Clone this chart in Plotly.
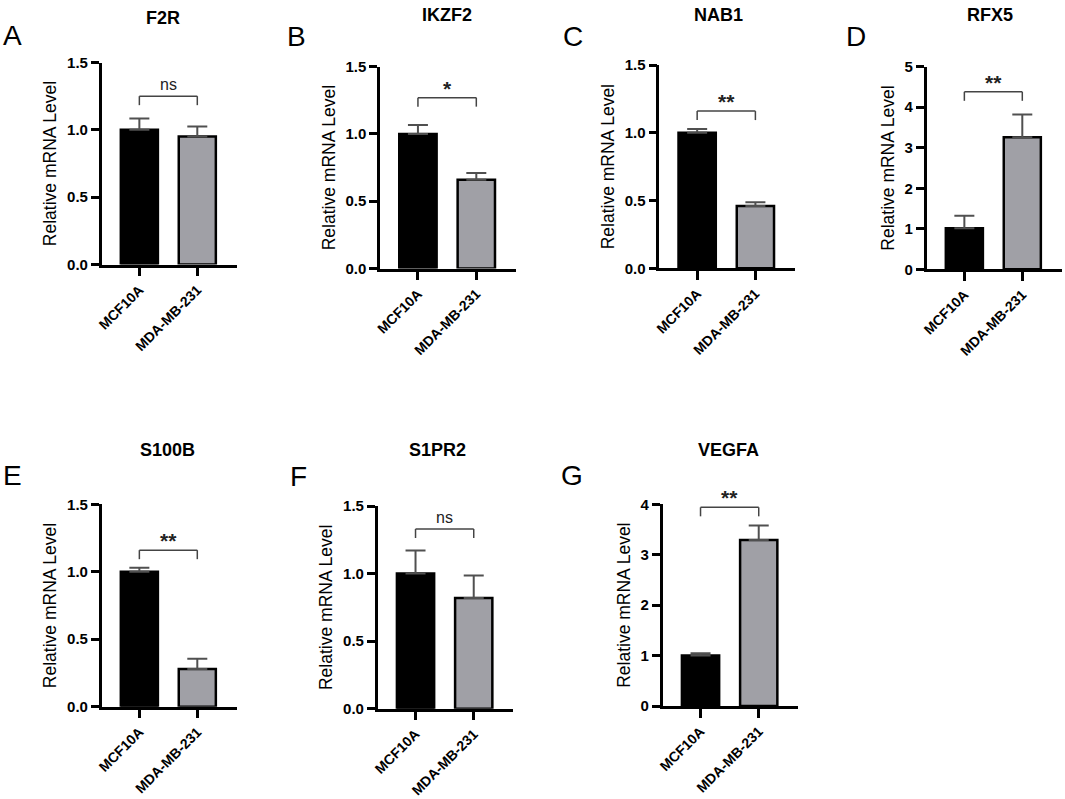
import plotly.graph_objects as go

# values
genes = ["F2R", "IKZF2", "NAB1", "RFX5", "S100B", "S1PR2", "VEGFA"]
letters = ["A", "B", "C", "D", "E", "F", "G"]
groups = ["MCF10A", "MDA-MB-231"]
mcf10a_mean = [1.00, 1.00, 1.00, 1.01, 1.00, 1.00, 1.00]
mcf10a_err = [0.085, 0.067, 0.028, 0.31, 0.03, 0.17, 0.045]
mda_mean = [0.95, 0.66, 0.46, 3.26, 0.28, 0.82, 3.29]
mda_err = [0.075, 0.05, 0.027, 0.56, 0.075, 0.165, 0.29]
significance = ["ns", "*", "**", "**", "**", "ns", "**"]
bracket_level = [1.25, 1.27, 1.16, 4.38, 1.16, 1.33, 3.94]
y_max = [1.5, 1.5, 1.5, 5, 1.5, 1.5, 4]
y_step = [0.5, 0.5, 0.5, 1, 0.5, 0.5, 1]

W, H = 1065, 799
FONT = "Arial, Liberation Sans, sans-serif"
bar_colors = ["#000000", "#a0a0a6"]
x_range = [-0.65, 1.68]

# panel placement in pixels: y-axis x, x-axis end, y of zero, y of top tick
panels = [
    (101.7, 236.7, 264.5, 62.5),
    (380.0, 516.0, 268.5, 66.7),
    (659.3, 795.0, 268.3, 65.0),
    (926.7, 1061.7, 269.3, 66.7),
    (101.7, 236.7, 706.7, 504.3),
    (377.7, 513.3, 708.7, 506.0),
    (662.7, 798.3, 706.0, 504.3),
]
title_px = [(163, 18), (447, 15), (718, 15), (990, 15), (167, 450), (437, 450), (728, 450)]
letter_px = [(12, 35), (296, 36), (573, 36), (856, 36), (12, 475), (298, 476), (572, 475)]

fig = go.Figure()
shapes = []
annotations = []

for i, gene in enumerate(genes):
    sfx = "" if i == 0 else str(i + 1)
    xa, ya = "x" + sfx, "y" + sfx
    x0, x1, yb, yt = panels[i]

    fig.add_trace(go.Bar(
        x=groups, y=[mcf10a_mean[i], mda_mean[i]],
        width=0.64,
        marker=dict(color=bar_colors, line=dict(color="black", width=2.5)),
        error_y=dict(type="data", symmetric=False,
                     array=[mcf10a_err[i], mda_err[i]], arrayminus=[0, 0],
                     color="#505050", thickness=2, width=10),
        xaxis=xa, yaxis=ya, showlegend=False,
    ))

    fig.layout["xaxis" + sfx] = dict(
        domain=[x0 / W, x1 / W], anchor=ya, range=x_range, automargin=False,
        showline=True, linecolor="black", linewidth=2.5,
        ticks="outside", ticklen=9, tickwidth=2.5, tickcolor="black",
        tickangle=-45, showgrid=False, zeroline=False,
        tickfont=dict(family=FONT, size=14, color="black", weight="bold"),
    )
    fig.layout["yaxis" + sfx] = dict(
        domain=[1 - yb / H, 1 - yt / H], anchor=xa, automargin=False,
        range=[0, y_max[i]], dtick=y_step[i],
        tickformat=".1f" if y_step[i] < 1 else "d",
        showline=True, linecolor="black", linewidth=2.5,
        ticks="outside", ticklen=8, tickwidth=2.5, tickcolor="black",
        showgrid=False, zeroline=False,
        tickfont=dict(family=FONT, size=15, color="black", weight="bold"),
        title=dict(text="Relative mRNA Level", standoff=6,
                   font=dict(family=FONT, size=17.5, color="black")),
    )

    # significance bracket, placed in axis-domain fractions
    def fx(c):
        return (c - x_range[0]) / (x_range[1] - x_range[0])
    top = bracket_level[i] / y_max[i]
    drop = 9 / (yb - yt)
    line = dict(color="#444444", width=1.5)
    for sx0, sy0, sx1, sy1 in [(fx(0), top, fx(1), top),
                               (fx(0), top, fx(0), top - drop),
                               (fx(1), top, fx(1), top - drop)]:
        shapes.append(dict(type="line", xref=xa + " domain", yref=ya + " domain",
                           x0=sx0, y0=sy0, x1=sx1, y1=sy1, line=line))
    is_ns = significance[i] == "ns"
    annotations.append(dict(
        text=significance[i] if is_ns else "<b>" + significance[i] + "</b>",
        xref=xa + " domain", yref=ya + " domain",
        x=(fx(0) + fx(1)) / 2, y=top, xanchor="center", yanchor="bottom",
        yshift=1 if is_ns else -4, showarrow=False,
        font=dict(family=FONT, size=16 if is_ns else 21, color="#222222"),
    ))

    tx, ty = title_px[i]
    annotations.append(dict(
        text="<b>" + gene + "</b>", xref="paper", yref="paper",
        x=tx / W, y=1 - ty / H, xanchor="center", yanchor="middle",
        showarrow=False, font=dict(family=FONT, size=18, color="black"),
    ))
    lx, ly = letter_px[i]
    annotations.append(dict(
        text=letters[i], xref="paper", yref="paper",
        x=lx / W, y=1 - ly / H, xanchor="center", yanchor="middle",
        showarrow=False, font=dict(family=FONT, size=28, color="black"),
    ))

fig.update_layout(
    template="none",
    width=W, height=H,
    margin=dict(l=0, r=0, t=0, b=0, pad=0),
    paper_bgcolor="white", plot_bgcolor="white",
    shapes=shapes, annotations=annotations,
)

# page body has a default 8px margin; drop it so the figure fills the window
fig.write_html("out.html", config={"displayModeBar": False},
               post_script="document.body.style.margin = '0';")
